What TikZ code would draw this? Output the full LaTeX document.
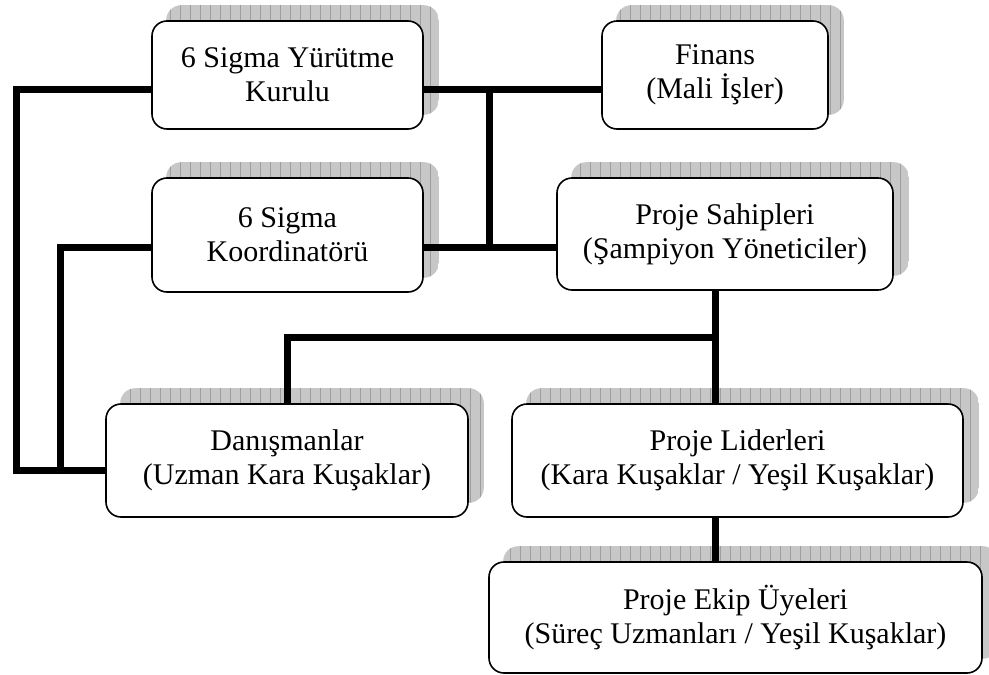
\documentclass[tikz,border=0pt]{standalone}
\usepackage{fontspec}
\setmainfont{Liberation Serif}
\pgfdeclarelayer{shade}
\pgfdeclarelayer{links}
\pgfsetlayers{shade,links,main}
\tikzset{
  orgbox/.style={draw=black, line width=1.6pt, fill=white, rounded corners=15pt,
    align=center, inner sep=0pt, font=\fontsize{30}{34}\selectfont},
  link/.style={line width=7pt, line join=miter, line cap=rect},
}
% grey gridded shadow behind a box, shifted up and to the right
\newcommand\boxshade[1]{%
  \begin{pgfonlayer}{shade}
    \begin{scope}
      \clip[rounded corners=15pt] ([xshift=15pt,yshift=15pt]#1.south west)
        rectangle ([xshift=15pt,yshift=15pt]#1.north east);
      \fill[black!22] ([xshift=15pt,yshift=15pt]#1.south west)
        rectangle ([xshift=15pt,yshift=15pt]#1.north east);
      \draw[black!38, line width=0.6pt, step=10]
        ([xshift=15pt,yshift=15pt]#1.south west) grid ([xshift=25pt,yshift=25pt]#1.north east);
    \end{scope}
  \end{pgfonlayer}}
\begin{document}
\begin{tikzpicture}[x=1pt, y=-1pt]
\useasboundingbox (0,0) rectangle (989,675);

% boxes
\node[orgbox, minimum width=271pt, minimum height=108pt] (y) at (287.5,75) {6 Sigma Yürütme\\Kurulu};
\node[orgbox, minimum width=226pt, minimum height=108pt] (f) at (715,75) {Finans\\(Mali İşler)};
\node[orgbox, minimum width=271pt, minimum height=114pt] (c) at (287.5,235) {6 Sigma\\Koordinatörü};
\node[orgbox, minimum width=336pt, minimum height=112pt] (p) at (725,234) {Proje Sahipleri\\(Şampiyon Yöneticiler)};
\node[orgbox, minimum width=362pt, minimum height=113pt] (d) at (287,460.5) {Danışmanlar\\(Uzman Kara Kuşaklar)};
\node[orgbox, minimum width=451pt, minimum height=113pt] (l) at (737.5,460.5) {Proje Liderleri\\(Kara Kuşaklar / Yeşil Kuşaklar)};
\node[orgbox, minimum width=493pt, minimum height=111pt] (e) at (735.5,617.5) {Proje Ekip Üyeleri\\(Süreç Uzmanları / Yeşil Kuşaklar)};

\boxshade{y}\boxshade{f}\boxshade{c}\boxshade{p}\boxshade{d}\boxshade{l}\boxshade{e}

% junction points
\coordinate (j1) at (489,89);
\coordinate (j2) at (489,247);
\coordinate (L1) at (16,89);
\coordinate (L2) at (16,470);
\coordinate (M1) at (60,247);
\coordinate (M2) at (60,470);
\coordinate (j3) at (715,337);
\coordinate (j4) at (287,337);

% connectors
\begin{pgfonlayer}{links}
\draw[link] (y.west |- L1) -- (L1) -- (L2) -- (d.west |- L2);
\draw[link] (c.west |- M1) -- (M1) -- (M2);
\draw[link] (y.east |- j1) -- (f.west |- j1);
\draw[link] (j1) -- (j2);
\draw[link] (c.east |- j2) -- (p.west |- j2);
\draw[link] (p.south -| j3) -- (l.north -| j3);
\draw[link] (j3) -- (j4) -- (d.north -| j4);
\draw[link] (l.south -| j3) -- (e.north -| j3);
\end{pgfonlayer}
\end{tikzpicture}
\end{document}
